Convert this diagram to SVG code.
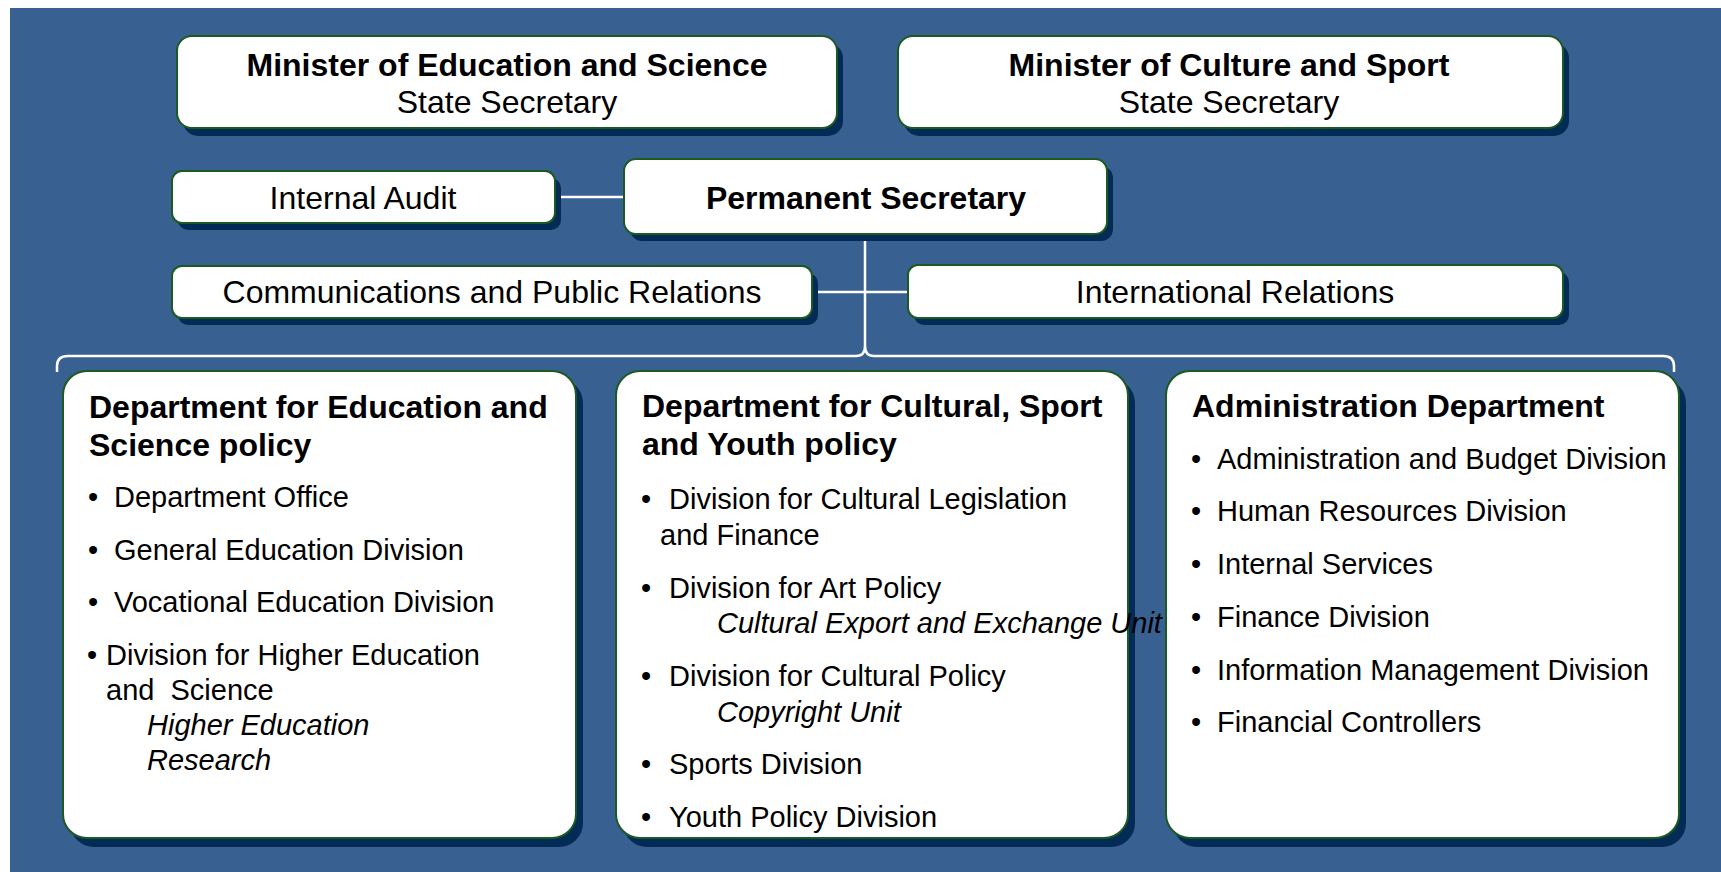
<svg xmlns="http://www.w3.org/2000/svg" width="1721" height="872" viewBox="0 0 1721 872">
<defs>
<style>
.box{fill:#ffffff;stroke:#1b5a20;stroke-width:2}
.sh{fill:#032b55}
.t{font-family:"Liberation Sans",Arial,Helvetica,sans-serif;fill:#000000}
.b{font-weight:bold;font-size:32px}
.r{font-size:32px}
.i{font-size:29px}
.it{font-size:29px;font-style:italic}
.mid{text-anchor:middle}
.con{fill:none;stroke:#ffffff;stroke-width:2.5}
</style>
</defs>
<rect x="0" y="0" width="1721" height="872" fill="#ffffff"/>
<rect x="10" y="8" width="1711" height="864" fill="#386192"/>

<g id="connectors">
<line class="con" x1="555" y1="197" x2="624" y2="197"/>
<line class="con" x1="865" y1="234" x2="865" y2="346"/>
<line class="con" x1="812" y1="292" x2="908" y2="292"/>
<path class="con" d="M57,372 L57,366 Q57,356 68,356 L856,356 Q865,356 865,346 Q865,356 874,356 L1663,356 Q1674,356 1674,366 L1674,372"/>
</g>

<g id="minister-edu">
<rect class="sh" x="183" y="43" width="660" height="93" rx="15"/>
<rect class="box" x="177" y="36" width="660" height="92" rx="15"/>
<text class="t b mid" x="507" y="76">Minister of Education and Science</text>
<text class="t r mid" x="507" y="113">State Secretary</text>
</g>

<g id="minister-culture">
<rect class="sh" x="904" y="43" width="665" height="93" rx="15"/>
<rect class="box" x="898" y="36" width="665" height="92" rx="15"/>
<text class="t b mid" x="1229" y="76">Minister of Culture and Sport</text>
<text class="t r mid" x="1229" y="113">State Secretary</text>
</g>

<g id="internal-audit">
<rect class="sh" x="178" y="178" width="383" height="52" rx="10"/>
<rect class="box" x="172" y="171" width="383" height="52" rx="10"/>
<text class="t r mid" x="363" y="209">Internal Audit</text>
</g>

<g id="permanent-secretary">
<rect class="sh" x="630" y="166" width="483" height="75" rx="12"/>
<rect class="box" x="624" y="159" width="483" height="75" rx="12"/>
<text class="t b mid" x="866" y="209">Permanent Secretary</text>
</g>

<g id="communications">
<rect class="sh" x="178" y="273" width="640" height="52" rx="10"/>
<rect class="box" x="172" y="266" width="640" height="52" rx="10"/>
<text class="t r mid" x="492" y="303">Communications and Public Relations</text>
</g>

<g id="international-relations">
<rect class="sh" x="914" y="272" width="655" height="53" rx="10"/>
<rect class="box" x="908" y="265" width="655" height="53" rx="10"/>
<text class="t r mid" x="1235" y="303">International Relations</text>
</g>

<g id="dept-education">
<rect class="sh" x="70" y="379" width="513" height="468" rx="24"/>
<rect class="box" x="63" y="371" width="513" height="467" rx="24"/>
<text class="t b" x="89" y="418">Department for Education and</text>
<text class="t b" x="89" y="456">Science policy</text>
<text class="t i" x="88" y="507">•</text><text class="t i" x="114" y="507">Department Office</text>
<text class="t i" x="88" y="560">•</text><text class="t i" x="114" y="560">General Education Division</text>
<text class="t i" x="88" y="612">•</text><text class="t i" x="114" y="612">Vocational Education Division</text>
<text class="t i" x="87" y="665">•</text><text class="t i" x="106" y="665">Division for Higher Education</text>
<text class="t i" x="106" y="700" xml:space="preserve">and  Science</text>
<text class="t it" x="147" y="735">Higher Education</text>
<text class="t it" x="147" y="770">Research</text>
</g>

<g id="dept-culture">
<rect class="sh" x="623" y="379" width="512" height="468" rx="24"/>
<rect class="box" x="616" y="371" width="512" height="467" rx="24"/>
<text class="t b" x="642" y="417">Department for Cultural, Sport</text>
<text class="t b" x="642" y="455">and Youth policy</text>
<text class="t i" x="641" y="509">•</text><text class="t i" x="669" y="509">Division for Cultural Legislation</text>
<text class="t i" x="660" y="545">and Finance</text>
<text class="t i" x="641" y="598">•</text><text class="t i" x="669" y="598">Division for Art Policy</text>
<text class="t it" x="717" y="633">Cultural Export and Exchange Unit</text>
<text class="t i" x="641" y="686">•</text><text class="t i" x="669" y="686">Division for Cultural Policy</text>
<text class="t it" x="717" y="722">Copyright Unit</text>
<text class="t i" x="641" y="774">•</text><text class="t i" x="669" y="774">Sports Division</text>
<text class="t i" x="641" y="827">•</text><text class="t i" x="669" y="827">Youth Policy Division</text>
</g>

<g id="dept-administration">
<rect class="sh" x="1173" y="379" width="513" height="468" rx="24"/>
<rect class="box" x="1166" y="371" width="513" height="467" rx="24"/>
<text class="t b" x="1192" y="417">Administration Department</text>
<text class="t i" x="1191" y="469">•</text><text class="t i" x="1217" y="469">Administration and Budget Division</text>
<text class="t i" x="1191" y="521">•</text><text class="t i" x="1217" y="521">Human Resources Division</text>
<text class="t i" x="1191" y="574">•</text><text class="t i" x="1217" y="574">Internal Services</text>
<text class="t i" x="1191" y="627">•</text><text class="t i" x="1217" y="627">Finance Division</text>
<text class="t i" x="1191" y="680">•</text><text class="t i" x="1217" y="680">Information Management Division</text>
<text class="t i" x="1191" y="732">•</text><text class="t i" x="1217" y="732">Financial Controllers</text>
</g>
</svg>
